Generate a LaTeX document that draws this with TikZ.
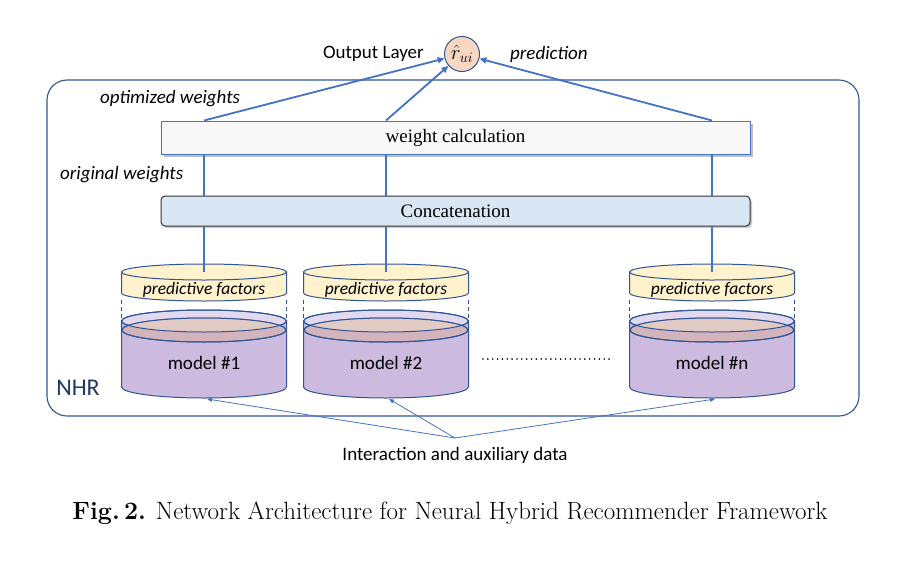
\documentclass[tikz,border=0pt]{standalone}
\usepackage{fontspec}
\usetikzlibrary{arrows.meta,shadows}
\newfontfamily\calfont{Carlito}
\newfontfamily\tnrfont{Liberation Serif}
\definecolor{lineblue}{HTML}{4472C4}
\definecolor{darkblue}{HTML}{2F5597}
\definecolor{navy}{HTML}{1F3864}
\definecolor{peach}{HTML}{F8D7C2}
\definecolor{pfyellow}{HTML}{FFF2CC}
\definecolor{purplebody}{HTML}{CCBBDE}
\definecolor{purpletop}{HTML}{E3D9EE}
\definecolor{pinkin}{HTML}{E2CAC5}
\definecolor{pinkdark}{HTML}{D3B4BC}
\definecolor{wcfill}{HTML}{F8F8F8}
\definecolor{ccfill}{HTML}{D9E7F5}
\tikzset{
  x=1pt, y=1pt,
  lbl/.style={font=\calfont\fontsize{19}{22}\selectfont, inner sep=0pt},
  ilbl/.style={font=\calfont\itshape\fontsize{19}{22}\selectfont, inner sep=0pt},
  conn/.style={draw=lineblue, line width=2pt},
  arr/.style={draw=lineblue, line width=1.8pt, -{Triangle[length=7pt,width=6pt]}},
  thinarr/.style={draw=lineblue, line width=0.8pt, -{Triangle[length=5pt,width=4pt]}},
  cylline/.style={draw=darkblue, line width=1pt},
}
% #1 = centre x, #2 = name, #3 = label
\newcommand\mycyl[3]{%
  \path[fill=pfyellow, cylline] (#1-82.5,-272) -- (#1-82.5,-293) arc (180:360:82.5 and 8) -- (#1+82.5,-272) -- cycle;
  \path[fill=pfyellow, cylline] (#1,-272) ellipse [x radius=82.5, y radius=8];
  \coordinate (#2top) at (#1,-272);
  \node[font=\calfont\itshape\fontsize{17.5}{20}\selectfont, inner sep=0pt] (#2pf) at (#1,-290) {predictive factors};
  \draw[darkblue, line width=1pt, dash pattern=on 4pt off 3pt] (#1-82.5,-300) -- (#1-82.5,-321);
  \draw[darkblue, line width=1pt, dash pattern=on 4pt off 3pt] (#1+82.5,-300) -- (#1+82.5,-321);
  \path[fill=purplebody, cylline] (#1-82.5,-321) -- (#1-82.5,-387) arc (180:360:82.5 and 11) -- (#1+82.5,-321) -- cycle;
  \path[fill=purpletop, cylline] (#1,-321) ellipse [x radius=82.5, y radius=11];
  \path[fill=pinkdark, cylline] (#1,-330) ellipse [x radius=82, y radius=12];
  \begin{scope}
    \clip (#1,-321) ellipse [x radius=82.5, y radius=11];
    \fill[pinkin] (#1,-330) ellipse [x radius=82, y radius=12];
  \end{scope}
  \draw[cylline] (#1,-330) ellipse [x radius=82, y radius=12];
  \draw[cylline] (#1,-321) ellipse [x radius=82.5, y radius=11];
  \coordinate (#2bot) at (#1+3,-399);
  \node[lbl] (#2lbl) at (#1,-363) {#3};
}
\begin{document}
\begin{tikzpicture}
\useasboundingbox (0,0) rectangle (911,-571);
\draw[darkblue, line width=1.1pt, rounded corners=20pt] (47,-80) rectangle (859,-416);
\node[font=\calfont\fontsize{24}{28}\selectfont, text=navy, inner sep=0pt] (nhr) at (78,-388) {NHR};

\node[circle, draw=darkblue, line width=1pt, fill=peach, minimum size=35pt, inner sep=0pt] (out) at (462,-54) {\fontsize{21}{23}\selectfont$\hat{r}_{ui}$};
\node[lbl, anchor=east] (outlbl) at (424,-54) {Output Layer};
\node[ilbl, anchor=west] (pred) at (510,-54) {prediction};

\node[draw=lineblue, line width=1pt, fill=wcfill, minimum width=589pt, minimum height=33pt, inner sep=0pt,
  drop shadow={shadow xshift=3pt, shadow yshift=-3pt, fill=black!50}, font=\tnrfont\fontsize{19}{22}\selectfont] (wc) at (455.5,-137.5) {weight calculation};
\node[ilbl, anchor=west] (optw) at (100,-99) {optimized weights};
\node[ilbl, anchor=west] (origw) at (60,-175) {original weights};

\node[draw=black!80, line width=1pt, fill=ccfill, rounded corners=4pt, minimum width=589pt, minimum height=30pt, inner sep=0pt,
  drop shadow={shadow xshift=2pt, shadow yshift=-2pt, fill=black!40}, font=\tnrfont\fontsize{19}{22}\selectfont] (cc) at (455.5,-211) {Concatenation};

\mycyl{204}{ca}{model \#1}
\mycyl{386}{cb}{model \#2}
\mycyl{712}{cn}{model \#n}

\draw[black, line width=1.8pt, line cap=round, dash pattern=on 0pt off 4.85pt] (483,-359) -- (613,-359);

\foreach \cy in {ca,cb,cn}{
  \draw[conn] (\cy top) -- (\cy top |- cc.south);
  \draw[conn] (\cy top |- cc.north) -- (\cy top |- wc.south);
  \draw[arr] (\cy top |- wc.north) -- (out);
}

\coordinate (dsrc) at (455,-438);
\node[lbl] (data) at (455,-455) {Interaction and auxiliary data};
\draw[thinarr] (dsrc) -- (cabot);
\draw[thinarr] (dsrc) -- (cbbot);
\draw[thinarr] (dsrc) -- (cnbot);

\node[inner sep=0pt, font=\fontsize{25}{29}\selectfont] (cap) at (450,-513) {\textbf{Fig.\,2.} Network Architecture for Neural Hybrid Recommender Framework};
\end{tikzpicture}
\end{document}
